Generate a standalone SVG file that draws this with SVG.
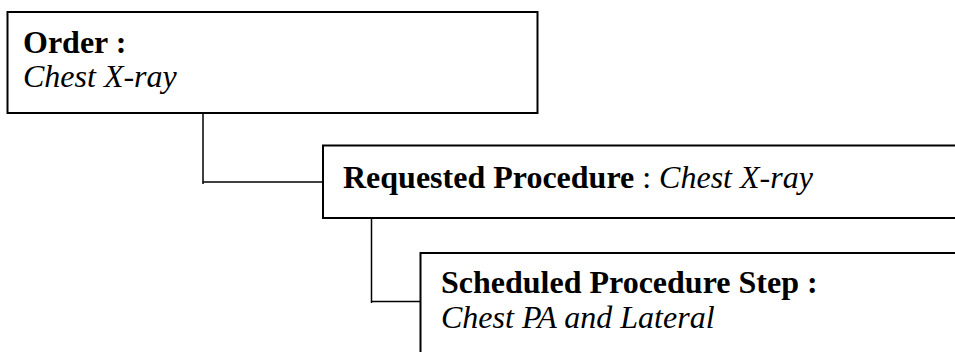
<svg xmlns="http://www.w3.org/2000/svg" width="955" height="352" viewBox="0 0 955 352">
<style>
.box{fill:#fff;stroke:#000;stroke-width:2}
.ln{fill:none;stroke:#000;stroke-width:1.5}
text{font-family:"Liberation Serif","Times New Roman",serif;font-size:32px;fill:#000}
.b{font-weight:bold}
.i{font-style:italic}
</style>
<rect width="955" height="352" fill="#fff"/>
<g id="connectors">
<polyline class="ln" points="203,113 203,184"/>
<polyline class="ln" points="203,182 323,182"/>
<polyline class="ln" points="371.5,218 371.5,303"/>
<polyline class="ln" points="371.5,301.5 420.5,301.5"/>
</g>
<g id="order">
<rect class="box" x="7.5" y="12" width="530" height="101"/>
<text x="23" y="53" class="b">Order :</text>
<text x="23" y="87" class="i">Chest X-ray</text>
</g>
<g id="requested">
<rect class="box" x="323" y="145.5" width="640" height="72.5"/>
<text x="343" y="188"><tspan class="b">Requested Procedure</tspan> : <tspan class="i">Chest X-ray</tspan></text>
</g>
<g id="scheduled">
<rect class="box" x="420.5" y="253" width="545" height="110"/>
<text x="441" y="293" class="b">Scheduled Procedure Step :</text>
<text x="441" y="328" class="i">Chest PA and Lateral</text>
</g>
</svg>
